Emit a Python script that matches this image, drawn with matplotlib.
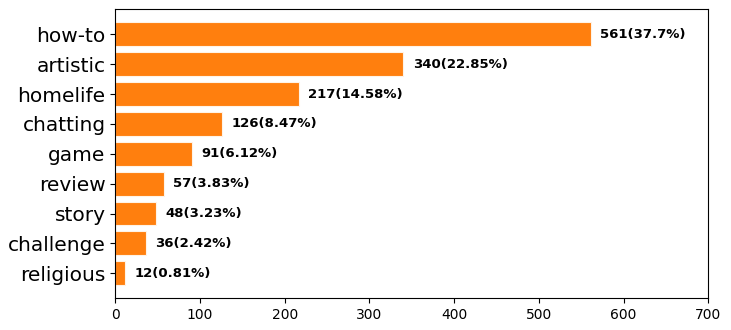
import matplotlib
matplotlib.use('Agg')
import matplotlib.pyplot as plt

categories = ['how-to', 'artistic', 'homelife', 'chatting', 'game',
              'review', 'story', 'challenge', 'religious']
counts = [561, 340, 217, 126, 91, 57, 48, 36, 12]
percents = ['37.7%', '22.85%', '14.58%', '8.47%', '6.12%',
            '3.83%', '3.23%', '2.42%', '0.81%']

fig = plt.figure(figsize=(7.31, 3.30), dpi=100)
ax = fig.add_axes([115.3 / 731, 31.7 / 330, 593 / 731, 289 / 330])

y = list(range(len(categories)))[::-1]
ax.barh(y, counts, height=0.8, color='#ff7f0e', edgecolor='#fff3e6', linewidth=0.8)
for yi, c, p in zip(y, counts, percents):
    ax.text(c + 11, yi, '%d(%s)' % (c, p), va='center', ha='left',
            fontsize=9.5, fontweight='bold')

ax.set_yticks(y)
ax.set_yticklabels(categories, fontsize=14.5)
ax.set_xlim(0, 700)
ax.tick_params(axis='x', labelsize=10)

fig.savefig('out.png', dpi=100)
